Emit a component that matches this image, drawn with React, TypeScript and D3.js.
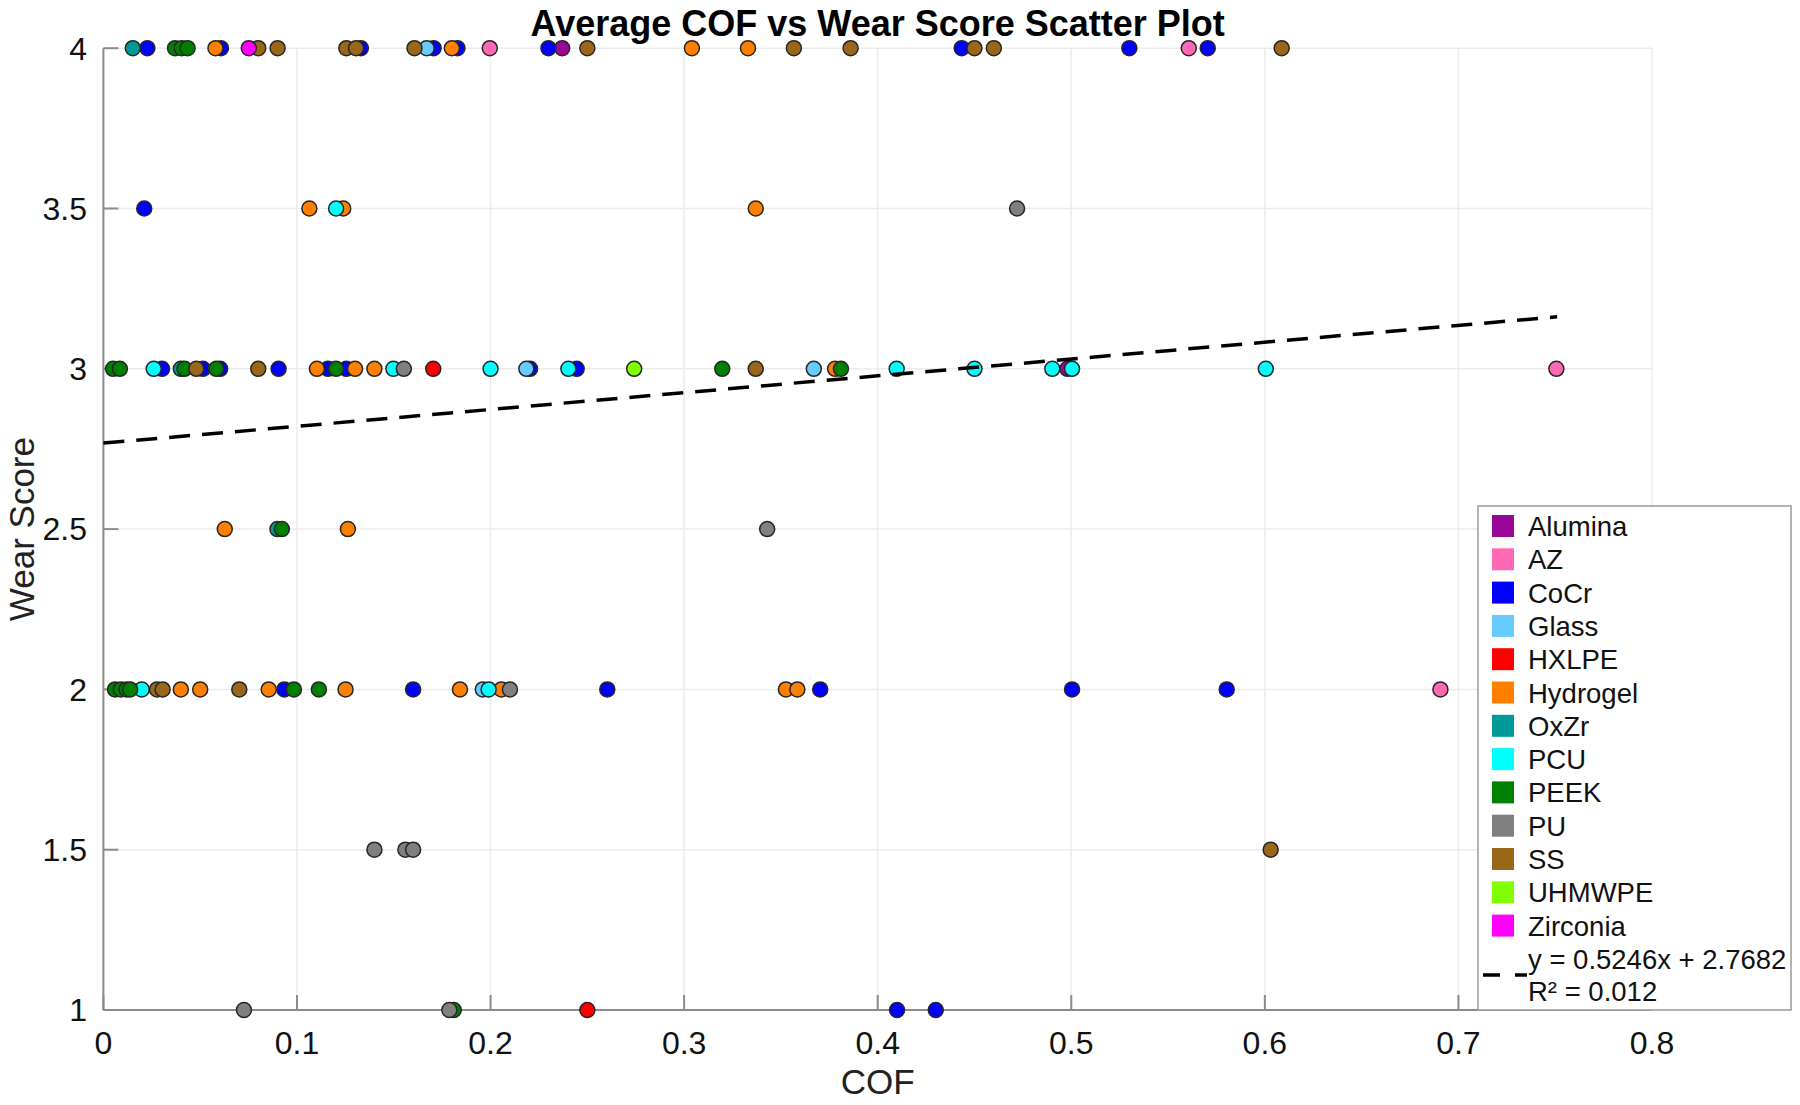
import React from 'react'
import * as d3 from 'd3'

// material groups, in legend / draw order
const materials = ['Alumina', 'AZ', 'CoCr', 'Glass', 'HXLPE', 'Hydrogel', 'OxZr', 'PCU', 'PEEK', 'PU', 'SS', 'UHMWPE', 'Zirconia']
const materialColors = ['#99069a', '#ff69b4', '#0000ff', '#66ccff', '#ff0000', '#ff8000', '#009999', '#00ffff', '#008000', '#808080', '#99661a', '#80ff00', '#ff00ff']

// [COF, wear score] for each material
const alumina = [[0.237, 4], [0.498, 3]]
const az = [[0.1996, 4], [0.5607, 4], [0.7506, 3], [0.6907, 2]]
const cocr = [
  [0.0227, 4], [0.0607, 4], [0.133, 4], [0.1706, 4], [0.1829, 4], [0.2299, 4], [0.4434, 4], [0.53, 4], [0.5705, 4],
  [0.0211, 3.5],
  [0.0303, 3], [0.0514, 3], [0.0603, 3], [0.0905, 3], [0.116, 3], [0.1255, 3], [0.2204, 3], [0.2445, 3],
  [0.0935, 2], [0.16, 2], [0.2603, 2], [0.3703, 2], [0.5004, 2], [0.5803, 2],
  [0.41, 1], [0.43, 1],
]
const glass = [[0.167, 4], [0.2185, 3], [0.367, 3], [0.196, 2]]
const hxlpe = [[0.1704, 3], [0.25, 1]]
const hydrogel = [
  [0.0579, 4], [0.18, 4], [0.304, 4], [0.333, 4],
  [0.1064, 3.5], [0.1239, 3.5], [0.337, 3.5],
  [0.1103, 3], [0.13, 3], [0.14, 3], [0.378, 3],
  [0.0627, 2.5], [0.1263, 2.5],
  [0.04, 2], [0.05, 2], [0.0854, 2], [0.1251, 2], [0.1842, 2], [0.2056, 2], [0.3526, 2], [0.3585, 2],
]
const oxzr = [[0.0152, 4], [0.04, 3], [0.0899, 2.5]]
const pcu = [
  [0.1202, 3.5],
  [0.026, 3], [0.1498, 3], [0.2, 3], [0.2402, 3], [0.4098, 3], [0.45, 3], [0.4902, 3], [0.5004, 3], [0.6005, 3],
  [0.0198, 2], [0.199, 2],
]
const peek = [
  [0.037, 4], [0.0405, 4], [0.0435, 4],
  [0.005, 3], [0.0085, 3], [0.0419, 3], [0.0583, 3], [0.1202, 3], [0.3197, 3], [0.381, 3],
  [0.0922, 2.5],
  [0.006, 2], [0.009, 2], [0.012, 2], [0.0138, 2], [0.0984, 2], [0.1113, 2],
  [0.181, 1],
]
const pu = [[0.472, 3.5], [0.1552, 3], [0.3429, 2.5], [0.21, 2], [0.14, 1.5], [0.156, 1.5], [0.16, 1.5], [0.0726, 1], [0.1787, 1]]
const ss = [
  [0.08, 4], [0.09, 4], [0.1255, 4], [0.1305, 4], [0.1607, 4], [0.25, 4], [0.3567, 4], [0.386, 4], [0.45, 4], [0.46, 4], [0.6087, 4],
  [0.048, 3], [0.08, 3], [0.337, 3],
  [0.0277, 2], [0.0306, 2], [0.0702, 2],
  [0.603, 1.5],
]
const uhmwpe = [[0.2742, 3]]
const zirconia = [[0.0751, 4]]

const groups = [alumina, az, cocr, glass, hxlpe, hydrogel, oxzr, pcu, peek, pu, ss, uhmwpe, zirconia]

// linear fit shown in the legend
const fitSlope = 0.5246
const fitIntercept = 2.7682
const fitRange = [0, 0.751]

const xTicks = [0, 0.1, 0.2, 0.3, 0.4, 0.5, 0.6, 0.7, 0.8]
const yTicks = [1, 1.5, 2, 2.5, 3, 3.5, 4]

const W = 1800
const H = 1105
const FONT = '"Liberation Sans", Arial, Helvetica, sans-serif'

export default function App() {
  const x = d3.scaleLinear().domain([0, 0.8]).range([103.4, 1652])
  const y = d3.scaleLinear().domain([1, 4]).range([1010, 48.2])
  const [x0, x1] = x.range()
  const [y0, y1] = y.range()

  const fitLine = d3.line<number>()
    .x(d => x(d))
    .y(d => y(fitSlope * d + fitIntercept))

  const legX = 1478
  const legY = 506
  const legW = 313
  const legH = 504
  const rowH = 33.3

  return (
    <svg width={W} height={H} style={{ position: 'absolute', left: 0, top: 0, background: '#fff' }} fontFamily={FONT}>
      {/* grid */}
      <g stroke="#ebebeb" strokeWidth={1.5}>
        {xTicks.map(t => <line key={'gx' + t} x1={x(t)} x2={x(t)} y1={y0} y2={y1} />)}
        {yTicks.map(t => <line key={'gy' + t} x1={x0} x2={x1} y1={y(t)} y2={y(t)} />)}
      </g>

      {/* axes */}
      <g stroke="#8c8c8c" strokeWidth={2}>
        <line x1={x0} x2={x0} y1={y0} y2={y1} />
        <line x1={x0} x2={x1} y1={y0} y2={y0} />
        {xTicks.map(t => <line key={'tx' + t} x1={x(t)} x2={x(t)} y1={y0} y2={y0 - 15} />)}
        {yTicks.map(t => <line key={'ty' + t} x1={x0} x2={x0 + 15} y1={y(t)} y2={y(t)} />)}
      </g>
      <g fontSize={32} fill="#111">
        {xTicks.map(t => (
          <text key={'lx' + t} x={x(t)} y={1054} textAnchor="middle">{d3.format('~g')(t)}</text>
        ))}
        {yTicks.map(t => (
          <text key={'ly' + t} x={87} y={y(t) + 11.3} textAnchor="end">{d3.format('~g')(t)}</text>
        ))}
      </g>

      {/* points */}
      {groups.map((pts, gi) => (
        <g key={materials[gi]} fill={materialColors[gi]} stroke="#262626" strokeWidth={1.5}>
          {pts.map((p, i) => <circle key={i} cx={x(p[0])} cy={y(p[1])} r={7.5} />)}
        </g>
      ))}

      {/* fit */}
      <path d={fitLine(fitRange) || ''} fill="none" stroke="#000" strokeWidth={3.5} strokeDasharray="21 12" />

      {/* titles */}
      <text x={(x0 + x1) / 2} y={35.6} textAnchor="middle" fontSize={36} fontWeight="bold">Average COF vs Wear Score Scatter Plot</text>
      <text x={(x0 + x1) / 2} y={1094} textAnchor="middle" fontSize={35} fill="#222">COF</text>
      <text transform={`translate(34,${(y0 + y1) / 2}) rotate(-90)`} textAnchor="middle" fontSize={35} fill="#222">Wear Score</text>

      {/* legend */}
      <g>
        <rect x={legX} y={legY} width={legW} height={legH} fill="#fff" stroke="#9a9a9a" strokeWidth={1.5} />
        {materials.map((m, i) => {
          const cy = 526 + i * rowH
          return (
            <g key={'leg' + m}>
              <rect x={1492} y={cy - 11} width={22} height={22} fill={materialColors[i]} />
              <text x={1528} y={cy + 10} fontSize={27.5} fill="#111">{m}</text>
            </g>
          )
        })}
        <line x1={1483} x2={1527} y1={975} y2={975} stroke="#000" strokeWidth={3.5} strokeDasharray="17 15" />
        <text x={1528} y={969} fontSize={27.5} fill="#111">{`y = ${fitSlope}x + ${fitIntercept}`}</text>
        <text x={1528} y={1001} fontSize={27.5} fill="#111">R² = 0.012</text>
      </g>
    </svg>
  )
}
